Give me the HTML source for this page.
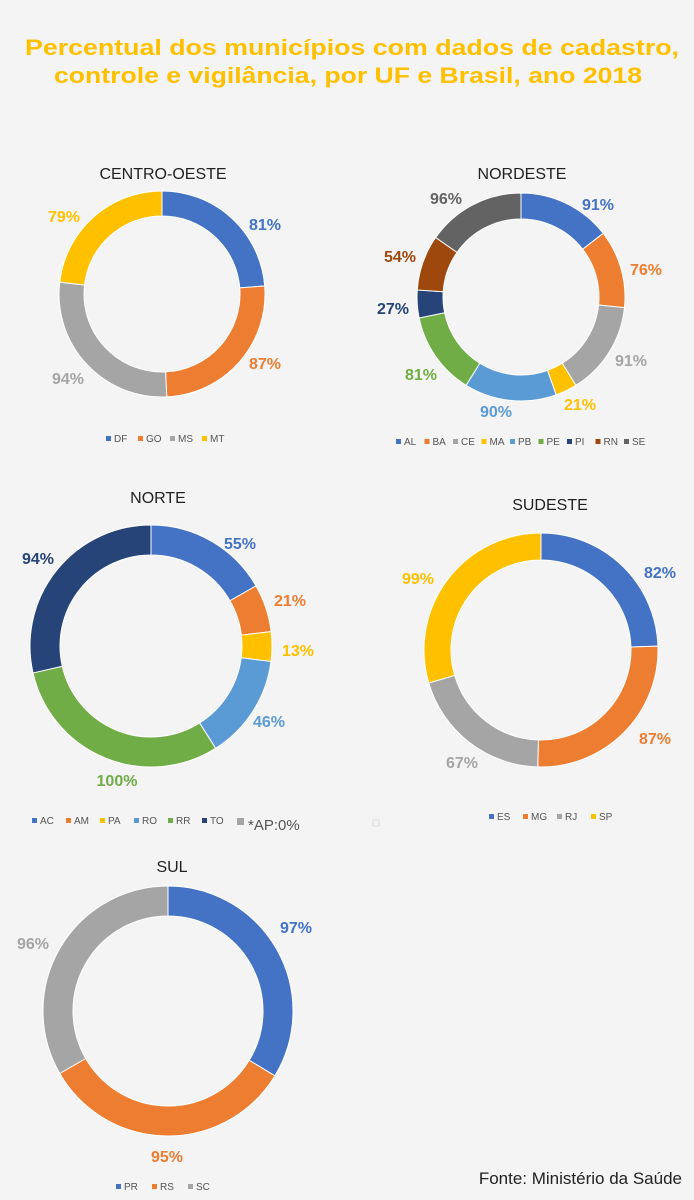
<!DOCTYPE html>
<html><head><meta charset="utf-8"><style>
body{margin:0;background:#f4f4f4;width:694px;height:1200px;overflow:hidden;font-family:"Liberation Sans",sans-serif}
svg{display:block}
</style></head><body>
<svg id="s" width="694" height="1200" xmlns="http://www.w3.org/2000/svg">
<rect width="694" height="1200" fill="#f4f4f4"/>
<g font-family="Liberation Sans, sans-serif" font-weight="bold" fill="#FFC000" text-anchor="middle" font-size="22">
<text x="352" y="55" textLength="654" lengthAdjust="spacingAndGlyphs">Percentual dos municípios com dados de cadastro,</text>
<text x="348" y="83" textLength="588" lengthAdjust="spacingAndGlyphs">controle e vigilância, por UF e Brasil, ano 2018</text>
</g>
<g font-size="16" fill="#222" text-anchor="middle">
<text x="163" y="179">CENTRO-OESTE</text>
<text x="522" y="179">NORDESTE</text>
<text x="158" y="503">NORTE</text>
<text x="550" y="510">SUDESTE</text>
<text x="172" y="872">SUL</text>
</g>
<text x="682" y="1184" font-size="17" fill="#222" text-anchor="end">Fonte: Ministério da Saúde</text>
<g id="d"></g>
</svg>
<script>
var B='#4472C4',O='#ED7D31',G='#A5A5A5',Y='#FFC000',LB='#5B9BD5',GR='#70AD47',NV='#264478',BR='#9E480E',DG='#636363';
var charts=[
{cx:162,cy:294,r:103,t:25,v:[81,87,94,79],c:[B,O,G,Y],
 L:[[265,230,B],[265,369,O],[68,384,G],[64,222,Y]],
 lg:{x:106,y:445,n:['DF','GO','MS','MT'],gap:32}},
{cx:521,cy:297,r:104,t:26,v:[91,76,91,21,90,81,27,54,96],c:[B,O,G,Y,LB,GR,NV,BR,DG],
 L:[[598,210,B],[646,275,O],[631,366,G],[580,410,Y],[496,417,LB],[421,380,GR],[393,314,NV],[400,262,BR],[446,204,DG]],
 lg:{x:396,y:448,n:['AL','BA','CE','MA','PB','PE','PI','RN','SE'],gap:28.5}},
{cx:151,cy:646,r:121,t:30,v:[55,21,13,46,100,94],c:[B,O,Y,LB,GR,NV],
 L:[[240,549,B],[290,606,O],[298,656,Y],[269,727,LB],[117,786,GR],[38,564,NV]],
 lg:{x:32,y:827,n:['AC','AM','PA','RO','RR','TO'],gap:34}},
{cx:541,cy:650,r:117,t:27,v:[82,87,67,99],c:[B,O,G,Y],
 L:[[660,578,B],[655,744,O],[462,768,G],[418,584,Y]],
 lg:{x:489,y:823,n:['ES','MG','RJ','SP'],gap:34}},
{cx:168,cy:1011,r:125,t:30,v:[97,95,96],c:[B,O,G],
 L:[[296,933,B],[167,1162,O],[33,949,G]],
 lg:{x:116,y:1193,n:['PR','RS','SC'],gap:36}}
];
var NS='http://www.w3.org/2000/svg',g=document.getElementById('d');
function el(t,a,txt){var e=document.createElementNS(NS,t);for(var k in a)e.setAttribute(k,a[k]);if(txt!==undefined)e.textContent=txt;g.appendChild(e);return e;}
function pt(cx,cy,r,a){return [cx+r*Math.sin(a),cy-r*Math.cos(a)];}
charts.forEach(function(ch){
 var tot=ch.v.reduce(function(a,b){return a+b},0),a0=0,R=ch.r,ri=ch.r-ch.t;
 ch.v.forEach(function(v,i){
  var a1=a0+v/tot*2*Math.PI,lg=(a1-a0)>Math.PI?1:0;
  var p1=pt(ch.cx,ch.cy,R,a0),p2=pt(ch.cx,ch.cy,R,a1),p3=pt(ch.cx,ch.cy,ri,a1),p4=pt(ch.cx,ch.cy,ri,a0);
  el('path',{d:'M'+p1+'A'+R+','+R+' 0 '+lg+' 1 '+p2+'L'+p3+'A'+ri+','+ri+' 0 '+lg+' 0 '+p4+'Z',fill:ch.c[i],stroke:'#fff','stroke-width':1});
  a0=a1;
 });
 ch.L.forEach(function(l,i){el('text',{x:l[0],y:l[1],fill:l[2],'font-size':16,'font-weight':'bold','text-anchor':'middle'},ch.v[i]+'%');});
 ch.lg.n.forEach(function(n,i){var x=ch.lg.x+i*ch.lg.gap;
  el('rect',{x:x,y:ch.lg.y-9,width:5,height:5,fill:ch.c[i]});
  el('text',{x:x+8,y:ch.lg.y-3,fill:'#555','font-size':10},n);});
});
el('rect',{x:237,y:818,width:7,height:7,fill:G});
el('text',{x:248,y:830,fill:'#555','font-size':15},'*AP:0%');
el('rect',{x:373,y:820,width:6,height:6,fill:'none',stroke:'#ddd'});
</script>
</body></html>
